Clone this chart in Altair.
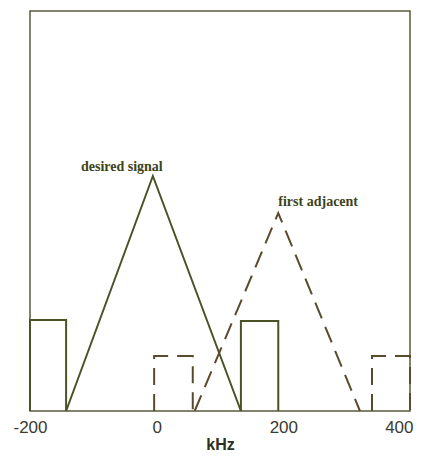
import altair as alt
import pandas as pd

# (x in kHz, y in arbitrary units 0-100)
tick_values = [-200, 0, 200, 400]

# solid outline (desired signal): boxes and triangle
desired_box1_x = [-200, -200, -143, -143]
desired_box1_y = [0, 22.75, 22.75, 0]
desired_tri_x = [-143, -6, 133]
desired_tri_y = [0, 58.75, 0]
desired_box2_x = [133, 133, 192, 192]
desired_box2_y = [0, 22.5, 22.5, 0]

# dashed outline (first adjacent)
adj_box1_x = [-4, -4, 57, 57]
adj_box1_y = [0, 13.75, 13.75, 0]
adj_tri_x = [60, 192, 321]
adj_tri_y = [0, 49.5, 0]
adj_box2_x = [340, 340, 400, 400]
adj_box2_y = [0, 13.75, 13.75, 0]

label_text = ["desired signal", "first adjacent"]
label_x = [-55, 255]
label_y = [61, 52.25]

rows = []
for name, style, xs, ys in [
    ("d_box1", "solid", desired_box1_x, desired_box1_y),
    ("d_tri", "solid", desired_tri_x, desired_tri_y),
    ("d_box2", "solid", desired_box2_x, desired_box2_y),
    ("a_box1", "dashed", adj_box1_x, adj_box1_y),
    ("a_tri", "dashed", adj_tri_x, adj_tri_y),
    ("a_box2", "dashed", adj_box2_x, adj_box2_y),
]:
    for i, (x, y) in enumerate(zip(xs, ys)):
        rows.append({"shape": name, "style": style, "order": i, "x": x, "y": y})
df = pd.DataFrame(rows)
labels = pd.DataFrame({"text": label_text, "x": label_x, "y": label_y})

xscale = alt.Scale(domain=[-200, 400], nice=False, zero=False)
yscale = alt.Scale(domain=[0, 100], nice=False, zero=False)

xaxis = alt.Axis(
    values=tick_values, title="kHz", grid=False, domain=False, ticks=False,
    labelFlush=False, labelFont="Liberation Sans", labelFontSize=17,
    labelColor="#3a3a2e", labelPadding=8,
    labelExpr="datum.value < 0 ? '-' + (-datum.value) : '' + datum.value",
    labelAlign=alt.ExprRef(expr="datum.value == 400 ? 'right' : 'center'"),
    labelOffset=alt.ExprRef(expr="datum.value == 400 ? 3 : 0"),
    titleFont="Liberation Sans", titleFontSize=16, titleFontWeight="bold",
    titleColor="#2e2e22", titlePadding=1,
)

solid = alt.Chart(df[df["style"] == "solid"]).mark_line(
    color="#4c5226", strokeWidth=2
).encode(
    x=alt.X("x:Q", scale=xscale, axis=xaxis),
    y=alt.Y("y:Q", scale=yscale, axis=None),
    detail="shape:N",
    order="order:Q",
)

dashed = alt.Chart(df[df["style"] == "dashed"]).mark_line(
    color="#5a4a2c", strokeWidth=2, strokeDash=[17, 9]
).encode(
    x=alt.X("x:Q", scale=xscale),
    y=alt.Y("y:Q", scale=yscale),
    detail="shape:N",
    order="order:Q",
)

text = alt.Chart(labels).mark_text(
    font="Liberation Serif", fontSize=14, fontWeight="bold",
    color="#3d4318", baseline="middle", align="center"
).encode(
    x=alt.X("x:Q", scale=xscale),
    y=alt.Y("y:Q", scale=yscale),
    text="text:N",
)

chart = (solid + dashed + text).properties(
    width=380, height=400,
    autosize=alt.AutoSizeParams(type="none"),
    padding={"left": 22, "top": 3, "right": 4, "bottom": 44},
).configure_view(
    stroke="#5b5b3c", strokeWidth=1.5
)

chart.save("out.html", embed_options={"renderer": "svg", "actions": False})
